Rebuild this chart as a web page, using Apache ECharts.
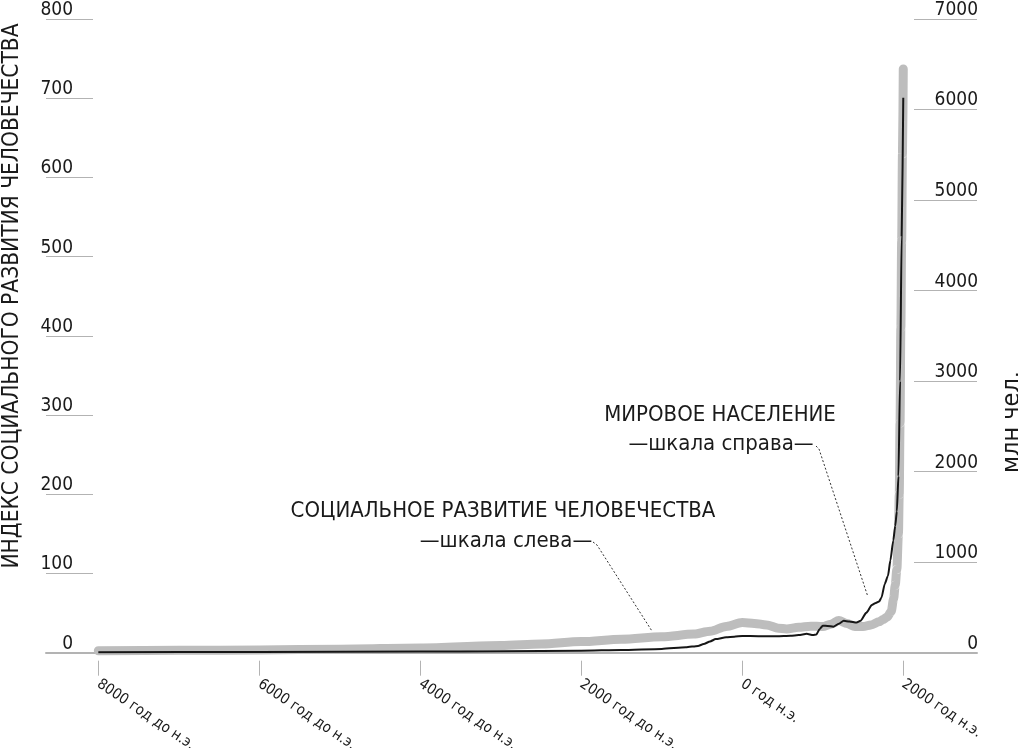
<!DOCTYPE html>
<html><head><meta charset="utf-8">
<script src="https://cdn.jsdelivr.net/npm/echarts@6/dist/echarts.min.js"></script>
<style>html,body{margin:0;padding:0;background:#fff}#c{width:1018px;height:748px}</style>
</head><body><div id="c"></div>
<script>
// Social development index (left scale)
const devYears = [-8000,-7000,-6000,-5000,-4000,-3000,-2500,-2000,-1500,-1000,-600,-400,-200,0,150,300,450,550,700,850,1000,1100,1200,1300,1400,1500,1600,1700,1750,1800,1850,1880,1900,1920,1940,1950,1960,1970,1980,1990,2000];
const devValues = [2.5,3,3.5,4.5,6,9,11,14,17,20,23.5,27,33,38,37,35,31,30,32,33.5,33,36,40.5,37,33,33,35,39,42,45,52,68,85,105,150,200,290,410,520,630,737];
// World population, millions (right scale)
const popYears = [-8000,-6000,-4000,-3000,-2000,-1500,-1000,-700,-550,-480,-400,-330,-200,-100,0,200,430,600,700,800,880,920,960,1000,1060,1130,1200,1260,1330,1420,1470,1540,1610,1650,1700,1730,1770,1810,1840,1876,1900,1920,1940,1960,1980,2000];
const popValues = [5,8,12,16,22,30,42,60,75,95,125,150,170,177,184,183,181,186,195,208,196,200,260,298,295,287,320,352,345,333,352,440,528,545,566,610,760,850,1020,1240,1400,1560,1950,3000,4600,6130];

const xTickYears = [-8000,-6000,-4000,-2000,0,2000];
const xTickLabels = ['8000 год до н.э.','6000 год до н.э.','4000 год до н.э.','2000 год до н.э.','0 год н.э.','2000 год н.э.'];
const leftTitle = 'ИНДЕКС СОЦИАЛЬНОГО РАЗВИТИЯ ЧЕЛОВЕЧЕСТВА';
const rightTitle = 'млн чел.';
const devLabel = ['СОЦИАЛЬНОЕ РАЗВИТИЕ ЧЕЛОВЕЧЕСТВА', '—шкала слева—'];
const popLabel = ['МИРОВОЕ НАСЕЛЕНИЕ', '—шкала справа—'];
const devPointer = [-1120, 27];   // where the leader touches (left scale)
const popPointer = [1560, 620];   // where the leader touches (right scale)

const FONT = "'Liberation Sans Narrow','DejaVu Sans Condensed','Liberation Sans',sans-serif";
const TXT = '#1a1a1a';
const zip = (a, b) => a.map((v, i) => [v, b[i]]);

const chart = echarts.init(document.getElementById('c'));

chart.setOption({
  animation: false,
  backgroundColor: '#fff',
  textStyle: { fontFamily: FONT },
  grid: { left: 46, right: 41, top: 19, bottom: 95.3, containLabel: false, outerBoundsMode: 'none' },
  xAxis: [
    { type: 'value', min: -8650, max: 2916, gridIndex: 0,
      axisLine: { show: true, onZero: false, lineStyle: { color: '#b3b3b3', width: 2 } },
      axisTick: { show: false }, axisLabel: { show: false }, splitLine: { show: false } },
    { type: 'value', min: -8650, max: 2916, gridIndex: 0, position: 'bottom', offset: 8,
      axisLine: { show: false, onZero: false },
      axisTick: { show: true, length: 15, customValues: xTickYears, lineStyle: { color: '#b3b3b3', width: 1 } },
      axisLabel: { show: true, customValues: xTickYears, rotate: -34, margin: 22,
        fontFamily: FONT, fontSize: 15, color: TXT,
        formatter: v => { const i = xTickYears.indexOf(v); return i >= 0 ? xTickLabels[i] : ''; } },
      splitLine: { show: false } }
  ],
  yAxis: [
    { type: 'value', position: 'left', min: 0, max: 800, interval: 100,
      axisLine: { show: false, onZero: false },
      axisTick: { show: true, inside: true, length: 47, lineStyle: { color: '#b3b3b3', width: 1 } },
      axisLabel: { inside: true, align: 'right', verticalAlign: 'bottom', margin: 27,
        fontFamily: FONT, fontSize: 19, color: TXT, lineHeight: 18, formatter: v => String(v) },
      splitLine: { show: false } },
    { type: 'value', position: 'right', min: 0, max: 7000, interval: 1000,
      axisLine: { show: false, onZero: false },
      axisTick: { show: true, inside: true, length: 63, lineStyle: { color: '#b3b3b3', width: 1 } },
      axisLabel: { inside: true, align: 'right', verticalAlign: 'bottom', margin: -1,
        fontFamily: FONT, fontSize: 19, color: TXT, lineHeight: 18, formatter: v => String(v) },
      splitLine: { show: false } }
  ],
  series: [
    { name: 'Социальное развитие', type: 'line', xAxisIndex: 0, yAxisIndex: 0,
      data: zip(devYears, devValues), showSymbol: false, smooth: 0.3, smoothMonotone: 'x',
      lineStyle: { color: '#bdbdbd', width: 9, cap: 'round', join: 'round' }, z: 2 },
    { name: 'Мировое население', type: 'line', xAxisIndex: 0, yAxisIndex: 1,
      data: zip(popYears, popValues), showSymbol: false, smooth: 0.2, smoothMonotone: 'x',
      lineStyle: { color: '#161616', width: 2, join: 'round' }, z: 3 }
  ]
});

const devPt = chart.convertToPixel({ xAxisIndex: 0, yAxisIndex: 0 }, devPointer);
const popPt = chart.convertToPixel({ xAxisIndex: 0, yAxisIndex: 1 }, popPointer);
const leaderStyle = { stroke: '#333', lineWidth: 1, lineDash: [2, 2] };
const capsFont = { fontFamily: FONT, fontSize: 22, fill: TXT, align: 'center', verticalAlign: 'middle' };
const subFont = { fontFamily: FONT, fontSize: 22, fill: TXT, align: 'center', verticalAlign: 'middle' };

chart.setOption({
  graphic: [
    { type: 'text', x: 12, y: 296, rotation: Math.PI / 2,
      style: Object.assign({}, capsFont, { text: leftTitle, fontSize: 22.5 }) },
    { type: 'text', x: 1012, y: 422, rotation: Math.PI / 2,
      style: Object.assign({}, capsFont, { text: rightTitle, fontSize: 25 }) },
    { type: 'text', x: 503, y: 511.5, style: Object.assign({}, capsFont, { text: devLabel[0] }) },
    { type: 'text', x: 506, y: 541, style: Object.assign({}, subFont, { text: devLabel[1] }) },
    { type: 'text', x: 720, y: 415, style: Object.assign({}, capsFont, { text: popLabel[0] }) },
    { type: 'text', x: 721, y: 444, style: Object.assign({}, subFont, { text: popLabel[1] }) },
    { type: 'polyline', shape: { points: [[593, 542], [597, 545], devPt] }, style: leaderStyle, silent: true },
    { type: 'polyline', shape: { points: [[816, 446], [819, 449], popPt] }, style: leaderStyle, silent: true }
  ]
});
</script>
</body></html>
